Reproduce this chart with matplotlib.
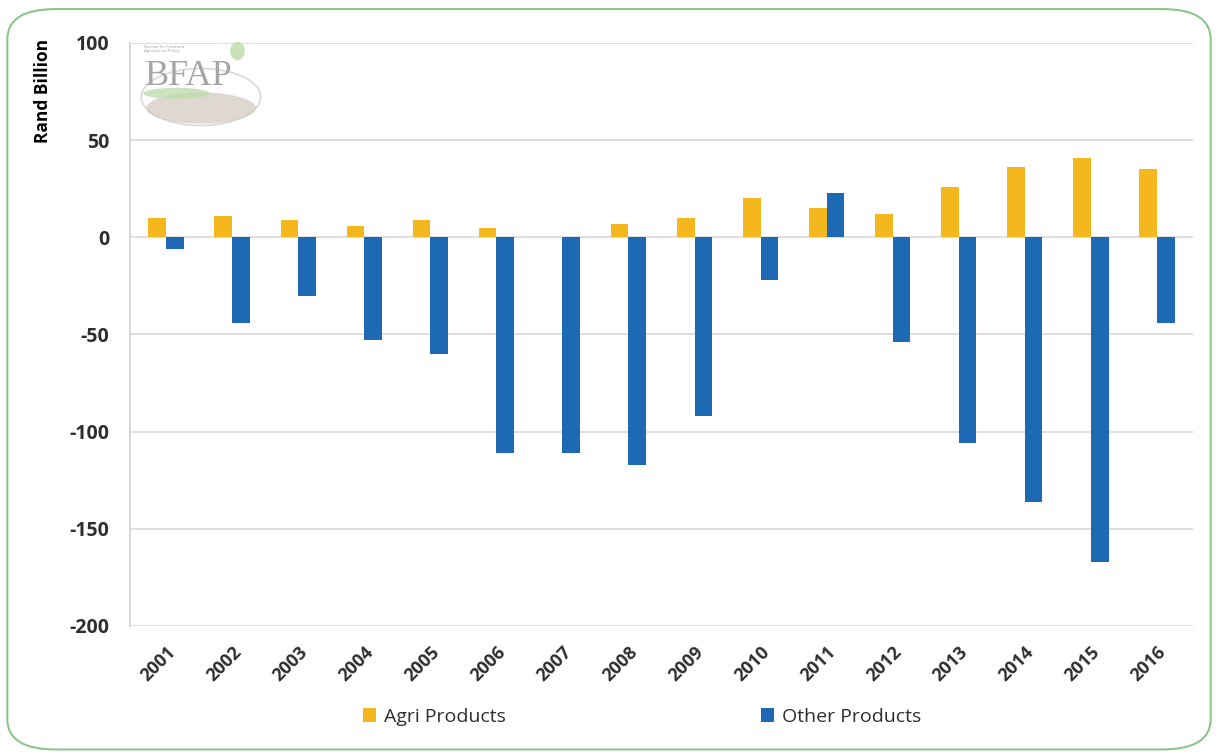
import matplotlib
matplotlib.use("Agg")
import matplotlib.pyplot as plt
import numpy as np
from matplotlib.patches import FancyBboxPatch, Ellipse

years = ["2001", "2002", "2003", "2004", "2005", "2006", "2007", "2008",
         "2009", "2010", "2011", "2012", "2013", "2014", "2015", "2016"]
agri = [10, 11, 9, 6, 9, 5, 0, 7, 10, 20, 15, 12, 26, 36, 41, 35]
other = [-6, -44, -30, -53, -60, -111, -111, -117, -92, -22, 23, -54, -106, -136, -167, -44]
yticks = [100, 50, 0, -50, -100, -150, -200]

agri_color = "#F4B71E"
other_color = "#1D69B4"
text_color = "#2E2E2E"

plt.rcParams['font.family'] = ['Open Sans', 'DejaVu Sans']

fig = plt.figure(figsize=(12.18, 7.54), dpi=100)

# outer rounded frame
frame = FancyBboxPatch((0.006, 0.006), 0.988, 0.982,
                       boxstyle="round,pad=0,rounding_size=0.04",
                       transform=fig.transFigure, facecolor="none",
                       edgecolor="#8CC58F", linewidth=1.5, zorder=-5)
fig.patches.append(frame)

ax = fig.add_axes([0.1067, 0.1698, 0.8728, 0.7732])
ax.set_facecolor("none")

x = np.arange(len(years))
w = 0.27
ax.bar(x - w / 2, agri, width=w, color=agri_color, label="Agri Products", zorder=3)
ax.bar(x + w / 2, other, width=w, color=other_color, label="Other Products", zorder=3)

ax.set_ylim(-200, 100)
ax.set_xlim(-0.55, len(years) - 0.45)
ax.set_yticks(yticks)
ax.set_yticklabels([str(v) for v in yticks], fontsize=14, fontweight="bold", color=text_color)
ax.set_xticks(x)
ax.set_xticklabels(years, rotation=45, ha="right", rotation_mode="anchor",
                   fontsize=13, fontweight="bold", color=text_color)
ax.tick_params(axis="both", length=0)
ax.tick_params(axis="y", pad=15)
ax.tick_params(axis="x", pad=12)
ax.grid(axis="y", color="#D9D9D9", linewidth=1.2, zorder=0)
for s in ["top", "right", "bottom"]:
    ax.spines[s].set_visible(False)
ax.spines["left"].set_color("#D0D0D0")
ax.spines["left"].set_linewidth(1.2)

fig.text(0.035, 0.879, "Rand Billion", rotation=90, fontsize=12.5, fontweight="bold",
         color="black", ha="center", va="center")

# faint logo
ax_logo = fig.add_axes([0.115, 0.825, 0.1, 0.122])
ax_logo.axis("off")
ax_logo.set_xlim(0, 1)
ax_logo.set_ylim(0, 1)
ax_logo.add_patch(Ellipse((0.5, 0.38), 0.98, 0.62, facecolor="none", edgecolor="#D8D8D8", lw=1.2))
ax_logo.add_patch(Ellipse((0.5, 0.26), 0.9, 0.34, facecolor="#D2C8BC", alpha=0.7, edgecolor="none"))
ax_logo.add_patch(Ellipse((0.3, 0.42), 0.55, 0.12, facecolor="#BFDDAE", alpha=0.8, edgecolor="none"))
ax_logo.add_patch(Ellipse((0.8, 0.88), 0.12, 0.2, facecolor="#B4D59D", alpha=0.7, edgecolor="none"))
ax_logo.text(0.4, 0.6, "BFAP", family="Liberation Serif", fontsize=26, color="#A6A6A6",
             ha="center", va="center")
ax_logo.text(0.03, 0.9, "Bureau for Food and\nAgricultural Policy", fontsize=3, color="#A0A0A0",
             ha="left", va="center")

leg = fig.legend(loc="center", bbox_to_anchor=(0.527, 0.049), ncol=2, frameon=False,
                 fontsize=14, handlelength=0.7, handleheight=0.7, handletextpad=0.4,
                 columnspacing=13.1)
for t in leg.get_texts():
    t.set_color(text_color)

fig.savefig("out.png", dpi=100)
